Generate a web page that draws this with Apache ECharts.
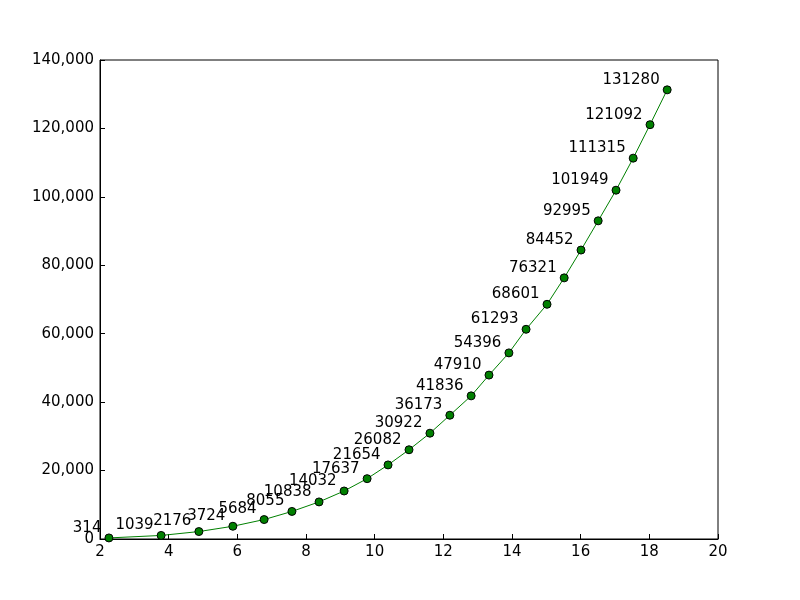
<!DOCTYPE html>
<html><head><meta charset="utf-8">
<script src="https://cdn.jsdelivr.net/npm/echarts@6/dist/echarts.min.js"></script>
<style>body{margin:0}#c{width:800px;height:600px}</style></head>
<body><div id="c"></div>
<script>
const xs=[2.26,3.78,4.88,5.87,6.78,7.59,8.38,9.11,9.78,10.39,11.0,11.61,12.19,12.81,13.33,13.91,14.41,15.02,15.52,16.01,16.51,17.03,17.53,18.02,18.52];
const ys=[314,1039,2176,3724,5684,8055,10838,14032,17637,21654,26082,30922,36173,41836,47910,54396,61293,68601,76321,84452,92995,101949,111315,121092,131280];
const data=xs.map((x,i)=>[x,ys[i]]);
const chart=echarts.init(document.getElementById('c'));
const ax={show:true,lineStyle:{color:'#000'}};
chart.setOption({
 animation:false,
 grid:{left:100,right:82,top:60,bottom:61},
 xAxis:{type:'value',min:2,max:20,interval:2,axisLine:{...ax,onZero:false},axisTick:{inside:true,length:5,lineStyle:{color:'#000'}},
  axisLabel:{color:'#000',fontSize:15,fontFamily:'DejaVu Sans',margin:6},splitLine:{show:false}},
 yAxis:{type:'value',min:0,max:140000,interval:20000,axisLine:ax,axisTick:{inside:true,length:5,lineStyle:{color:'#000'}},
  axisLabel:{color:'#000',fontSize:15,fontFamily:'DejaVu Sans',margin:6},splitLine:{show:false}},
 series:[{type:'line',data:data,symbol:'circle',symbolSize:8,
  lineStyle:{color:'#008000',width:1},itemStyle:{color:'#008000',borderColor:'#000',borderWidth:1},
  label:{show:true,position:'left',offset:[-0,-10],formatter:p=>p.value[1],color:'#000',fontSize:15,fontFamily:'DejaVu Sans',distance:3}},
  {type:'line',data:[],markLine:{}}],
 graphic:[{type:'rect',shape:{x:100,y:60,width:618,height:479},style:{fill:'none',stroke:'#000',lineWidth:1},silent:true}]
});
</script></body></html>
